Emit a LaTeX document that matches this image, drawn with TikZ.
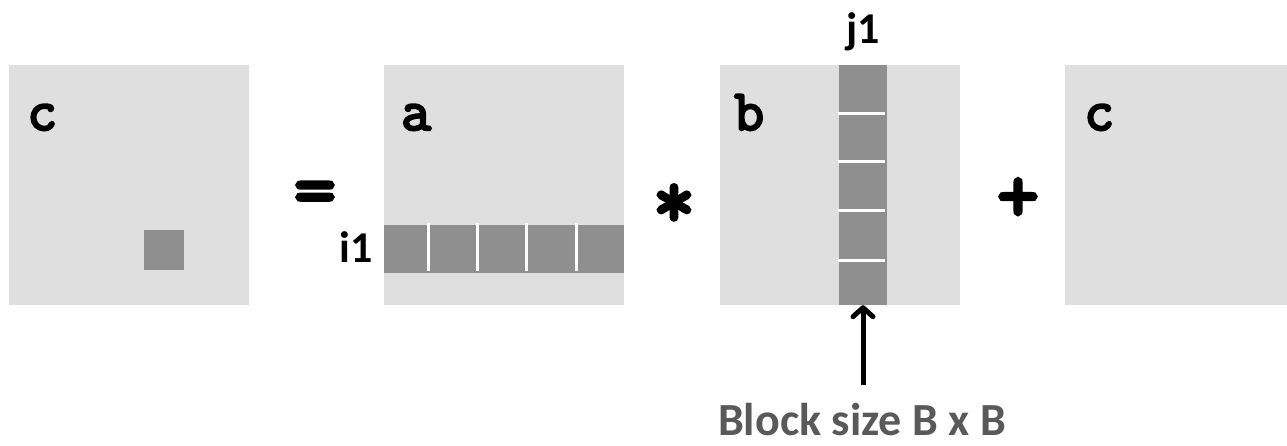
\documentclass[tikz,border=0pt]{standalone}
\usepackage{fontspec}
\setmainfont{Carlito}
\newfontfamily\monofam{Latin Modern Mono}[AutoFakeBold=4]
\newfontfamily\opfam{Latin Modern Mono}[AutoFakeBold=5]
\usetikzlibrary{arrows.meta}
\definecolor{light}{HTML}{DFDFDF}
\definecolor{dark}{HTML}{8F8F8F}
\definecolor{txtgray}{HTML}{595959}
\tikzset{
  mat/.style={fill=light, draw=none, inner sep=0, minimum width=240pt, minimum height=240pt},
  blk/.style={fill=dark, draw=none, inner sep=0},
  sep/.style={draw=white, line width=3pt},
  code/.style={anchor=base west, inner sep=0, font=\monofam\bfseries\fontsize{58}{58}\selectfont},
  op/.style={anchor=center, inner sep=0, font=\opfam\bfseries\fontsize{80}{80}\selectfont},
  idx/.style={anchor=base west, inner sep=0, font=\bfseries\fontsize{44}{44}\selectfont},
}
\begin{document}
\begin{tikzpicture}[x=1pt,y=-1pt]
\useasboundingbox (0,0) rectangle (1287,445);
% matrices
\node[mat] (C1) at (129,185) {};
\node[mat] (A) at (504,185) {};
\node[mat] (B) at (840,185) {};
\node[mat, minimum width=222pt] (C2) at (1176,185) {};
% block of c
\node[blk, minimum width=40pt, minimum height=40pt] (cblk) at (164,250) {};
% row of a
\node[blk, minimum width=240pt, minimum height=48pt] (arow) at (504,249) {};
\foreach \x in {428,477,526,576} \draw[sep] (\x,223) -- (\x,271);
% column of b
\node[blk, minimum width=48pt, minimum height=240pt] (bcol) at (863,185) {};
\foreach \y in {113,161,210,260} \draw[sep] (838,\y) -- (885,\y);
% labels
\node[code] (lc1) at (27,130) {c};
\node[code] (la) at (401,130) {a};
\node[code] (lb) at (734,130) {b};
\node[code] (lc2) at (1084,130) {c};
\node[op] (eq) at (315,199) {=};
\node[op] (mul) at (674,206) {*};
\node[op] (plus) at (1018,200) {+};
\node[idx] (i1) at (339,262) {i1};
\node[idx] (j1) at (846,43) {j1};
% arrow
\coordinate (tail) at (863,385);
\draw[line width=5pt, -{Straight Barb[length=9pt,width=20pt,round]}] (tail) -- (bcol.south);
\node[anchor=base, inner sep=0, text depth=0pt, text=txtgray, font=\bfseries\fontsize{46}{46}\selectfont] (bs) at (862,435) {Block size B x B};
\end{tikzpicture}
\end{document}
